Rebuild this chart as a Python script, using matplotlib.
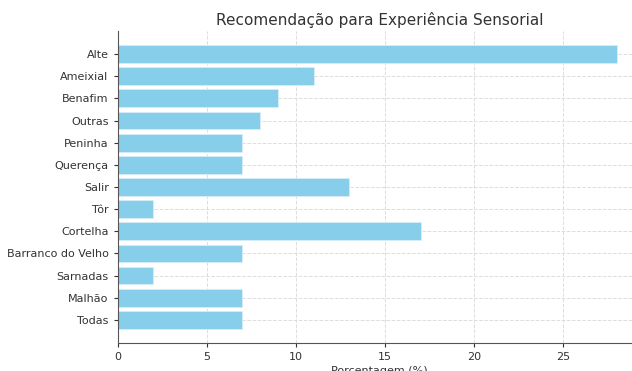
import matplotlib.pyplot as plt

# Dados
locais = ["Alte", "Ameixial", "Benafim", "Outras", "Peninha", "Querença", "Salir",
          "Tôr", "Cortelha", "Barranco do Velho", "Sarnadas", "Malhão", "Todas"]
percentagens = [28, 11, 9, 8, 7, 7, 13, 2, 17, 7, 2, 7, 7]

fig = plt.figure(figsize=(6.32, 3.71), dpi=100)
ax = fig.add_axes([0.1862, 0.0755, 0.829, 0.841])

ax.barh(locais, percentagens, color="skyblue", edgecolor="#d8eef8", linewidth=0.6)
ax.invert_yaxis()
ax.set_xlim(0, 29.4)

ax.set_title("Recomendação para Experiência Sensorial", fontsize=11, color="#333333", pad=4)
ax.set_xlabel("Porcentagem (%)", fontsize=8, color="#333333", labelpad=3)
ax.tick_params(labelsize=8, colors="#333333", length=3)
ax.grid(True, linestyle="--", color="#dddddd", linewidth=0.7)
ax.set_axisbelow(True)
for side in ["top", "right"]:
    ax.spines[side].set_visible(False)
for side in ["left", "bottom"]:
    ax.spines[side].set_color("#555555")

fig.savefig("out.png", dpi=100)
